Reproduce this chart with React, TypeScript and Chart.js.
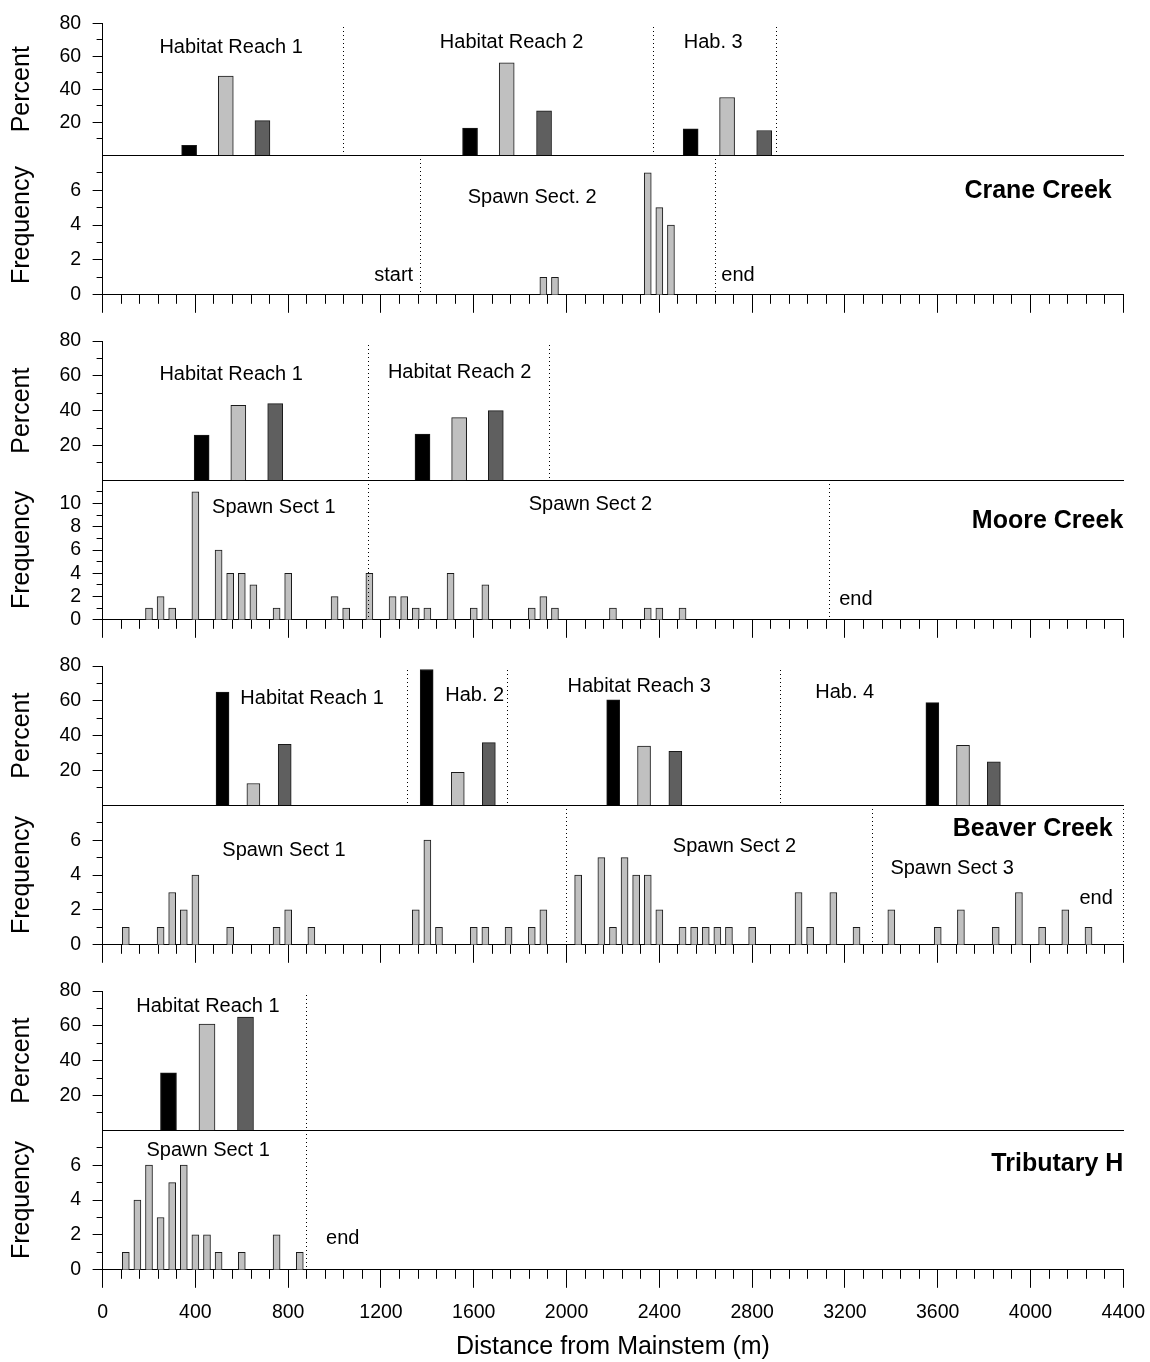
import React, { useEffect, useRef } from 'react';
import { Chart, registerables } from 'chart.js';

Chart.register(...registerables);

const FONT = "'Liberation Sans', Arial, Helvetica, sans-serif";
Chart.defaults.font.family = FONT;
Chart.defaults.color = '#000';

// ---------- axes ----------
const xMin = 0;
const xMax = 4400;
const xMinorStep = 80;
const xMajorStep = 400;
const pctMax = 80;
const pctStep = 10;
const pctLabelStep = 20;
const freqStep = 1;
const freqLabelStep = 2;
const xTitle = 'Distance from Mainstem (m)';
const pctTitle = 'Percent';
const freqTitle = 'Frequency';

// ---------- Crane Creek ----------
const craneBlackX = [373, 1584, 2535];
const craneBlackPct = [6, 16.5, 16];
const craneLightX = [531, 1742, 2692];
const craneLightPct = [48, 56, 35];
const craneDarkX = [689, 1903, 2852];
const craneDarkPct = [21, 27, 15];
const craneHabBounds = [1037, 2374, 2906];
const craneReddX = [1900, 1950, 2350, 2400, 2450];
const craneReddFreq = [1, 1, 7, 5, 4];
const craneSpawnBounds = [1372, 2640];
const craneHabText: [string, number, number][] = [
  ['Habitat Reach 1', 554, 65.3],
  ['Habitat Reach 2', 1763, 68.2],
  ['Hab. 3', 2632, 68.2],
];
const craneSpawnText: [string, number, number][] = [
  ['start', 1255, 1.12],
  ['Spawn Sect. 2', 1852, 5.6],
  ['end', 2739, 1.1],
];

// ---------- Moore Creek ----------
const mooreBlackX = [427, 1379];
const mooreBlackPct = [26, 26.5];
const mooreLightX = [585, 1537];
const mooreLightPct = [43, 36];
const mooreDarkX = [744, 1695];
const mooreDarkPct = [44, 40];
const mooreHabBounds = [1145, 1925];
const mooreReddX = [200, 250, 300, 400, 500, 550, 600, 650, 750, 800, 1000, 1050, 1150, 1250, 1300, 1350, 1400, 1500, 1600, 1650, 1850, 1900, 1950, 2200, 2350, 2400, 2500];
const mooreReddFreq = [1, 2, 1, 11, 6, 4, 4, 3, 1, 4, 2, 1, 4, 2, 2, 1, 1, 4, 1, 3, 1, 2, 1, 1, 1, 1, 1];
const mooreSpawnBounds = [1145, 3132];
const mooreHabText: [string, number, number][] = [
  ['Habitat Reach 1', 554, 60.7],
  ['Habitat Reach 2', 1539, 62.2],
];
const mooreSpawnText: [string, number, number][] = [
  ['Spawn Sect 1', 738, 9.65],
  ['Spawn Sect 2', 2103, 9.9],
  ['end', 3247, 1.73],
];

// ---------- Beaver Creek ----------
const beaverBlackX = [517, 1397, 2201, 3577];
const beaverBlackPct = [65, 78, 60.5, 59];
const beaverLightX = [650, 1531, 2334, 3709];
const beaverLightPct = [12.5, 19, 34, 34.5];
const beaverDarkX = [785, 1665, 2469, 3842];
const beaverDarkPct = [35, 36, 31, 25];
const beaverHabBounds = [1313, 1744, 2924];
const beaverReddX = [100, 250, 300, 350, 400, 550, 750, 800, 900, 1350, 1400, 1450, 1600, 1650, 1750, 1850, 1900, 2050, 2150, 2200, 2250, 2300, 2350, 2400, 2500, 2550, 2600, 2650, 2700, 2800, 3000, 3050, 3150, 3250, 3400, 3600, 3700, 3850, 3950, 4050, 4150, 4250];
const beaverReddFreq = [1, 1, 3, 2, 4, 1, 1, 2, 1, 2, 6, 1, 1, 1, 1, 1, 2, 4, 5, 1, 5, 4, 4, 2, 1, 1, 1, 1, 1, 1, 3, 1, 3, 1, 2, 1, 2, 1, 3, 1, 2, 1];
const beaverSpawnBounds = [2000, 3320, 4400];
const beaverHabText: [string, number, number][] = [
  ['Habitat Reach 1', 903, 61.5],
  ['Hab. 2', 1604, 62.8],
  ['Habitat Reach 3', 2313, 68.2],
  ['Hab. 4', 3199, 65],
];
const beaverSpawnText: [string, number, number][] = [
  ['Spawn Sect 1', 782, 5.43],
  ['Spawn Sect 2', 2724, 5.62],
  ['Spawn Sect 3', 3662, 4.38],
  ['end', 4283, 2.67],
];

// ---------- Tributary H ----------
const tribBlackX = [284];
const tribBlackPct = [33];
const tribLightX = [450];
const tribLightPct = [61];
const tribDarkX = [616];
const tribDarkPct = [65];
const tribHabBounds = [877];
const tribReddX = [100, 150, 200, 250, 300, 350, 400, 450, 500, 600, 750, 850];
const tribReddFreq = [1, 4, 6, 3, 5, 6, 2, 2, 1, 1, 2, 1];
const tribSpawnBounds = [877];
const tribHabText: [string, number, number][] = [['Habitat Reach 1', 454, 71]];
const tribSpawnText: [string, number, number][] = [
  ['Spawn Sect 1', 455, 6.84],
  ['end', 1035, 1.79],
];

// ---------- creek names ----------
const creekNames = ['Crane Creek', 'Moore Creek', 'Beaver Creek', 'Tributary H'];
const creekNameX = [4350, 4400, 4354, 4400];
const creekNameY = [5.94, 8.5, 6.63, 6.04];
const freqMax = [8, 12, 8, 8];

// ---------- styles / layout ----------
const W = 1150;
const H = 1362;
const PLOT_LEFT = 102.6;
const PLOT_RIGHT = 1123.3;
const BLOCK_TOPS = [16, 341, 666, 991];
const PCT_H = 139.3;
const FREQ_H = 139.5;
const C_BLACK = '#000000';
const C_LIGHT = '#c0c0c0';
const C_DARK = '#5f5f5f';
const C_EDGE = '#1a1a1a';
const PCT_BAR_W = [15, 15, 13, 16];
const FREQ_BAR_W = 7;

type Series = { x: number[]; y: number[]; color: string };
type Panel = {
  kind: 'pct' | 'freq';
  top: number;
  bottom: number;
  yMax: number;
  series: Series[];
  barW: number;
  bounds: number[];
  texts: [string, number, number][];
  name?: [string, number, number];
  last: boolean;
};

const pctSeries: Series[][] = [
  [
    { x: craneBlackX, y: craneBlackPct, color: C_BLACK },
    { x: craneLightX, y: craneLightPct, color: C_LIGHT },
    { x: craneDarkX, y: craneDarkPct, color: C_DARK },
  ],
  [
    { x: mooreBlackX, y: mooreBlackPct, color: C_BLACK },
    { x: mooreLightX, y: mooreLightPct, color: C_LIGHT },
    { x: mooreDarkX, y: mooreDarkPct, color: C_DARK },
  ],
  [
    { x: beaverBlackX, y: beaverBlackPct, color: C_BLACK },
    { x: beaverLightX, y: beaverLightPct, color: C_LIGHT },
    { x: beaverDarkX, y: beaverDarkPct, color: C_DARK },
  ],
  [
    { x: tribBlackX, y: tribBlackPct, color: C_BLACK },
    { x: tribLightX, y: tribLightPct, color: C_LIGHT },
    { x: tribDarkX, y: tribDarkPct, color: C_DARK },
  ],
];
const freqSeries: Series[] = [
  { x: craneReddX, y: craneReddFreq, color: C_LIGHT },
  { x: mooreReddX, y: mooreReddFreq, color: C_LIGHT },
  { x: beaverReddX, y: beaverReddFreq, color: C_LIGHT },
  { x: tribReddX, y: tribReddFreq, color: C_LIGHT },
];
const habBounds = [craneHabBounds, mooreHabBounds, beaverHabBounds, tribHabBounds];
const spawnBounds = [craneSpawnBounds, mooreSpawnBounds, beaverSpawnBounds, tribSpawnBounds];
const habTexts = [craneHabText, mooreHabText, beaverHabText, tribHabText];
const spawnTexts = [craneSpawnText, mooreSpawnText, beaverSpawnText, tribSpawnText];

const PANELS: Panel[] = [];
BLOCK_TOPS.forEach((t, i) => {
  PANELS.push({
    kind: 'pct',
    top: t,
    bottom: t + PCT_H,
    yMax: pctMax,
    series: pctSeries[i],
    barW: PCT_BAR_W[i],
    bounds: habBounds[i],
    texts: habTexts[i],
    last: false,
  });
  PANELS.push({
    kind: 'freq',
    top: t + PCT_H,
    bottom: t + PCT_H + FREQ_H,
    yMax: freqMax[i],
    series: [freqSeries[i]],
    barW: FREQ_BAR_W,
    bounds: spawnBounds[i],
    texts: spawnTexts[i],
    name: [creekNames[i], creekNameX[i], creekNameY[i]],
    last: i === BLOCK_TOPS.length - 1,
  });
});

function decor(p: Panel) {
  return {
    id: 'decor',
    afterDatasetsDraw(chart: any) {
      const ctx: CanvasRenderingContext2D = chart.ctx;
      const xs = chart.scales.x;
      const ys = chart.scales.y;
      const { left, top, bottom } = chart.chartArea;
      ctx.save();
      ctx.strokeStyle = '#000';
      ctx.lineWidth = 1;
      // y tick marks
      ys.ticks.forEach((t: any) => {
        const v = t.value;
        let len = 0;
        if (p.kind === 'pct') {
          if (v <= 0) return;
          len = v % pctLabelStep === 0 ? 10 : 6;
        } else {
          if (v >= p.yMax) return;
          len = v % freqLabelStep === 0 ? 10 : 6;
        }
        const y = Math.round(ys.getPixelForValue(v) - 0.5) + 0.5;
        ctx.beginPath();
        ctx.moveTo(left - len, y);
        ctx.lineTo(Math.round(left), y);
        ctx.stroke();
      });
      // x tick marks
      if (p.kind === 'freq') {
        xs.ticks.forEach((t: any) => {
          const v = t.value;
          const len = v % xMajorStep === 0 ? 18 : 9;
          const x = Math.round(xs.getPixelForValue(v) - 0.5) + 0.5;
          ctx.beginPath();
          ctx.moveTo(x, bottom);
          ctx.lineTo(x, bottom + len);
          ctx.stroke();
        });
      }
      // dotted boundaries
      ctx.setLineDash([1, 3]);
      p.bounds.forEach((b) => {
        const x = Math.round(xs.getPixelForValue(b) - 0.5) + 0.5;
        ctx.beginPath();
        ctx.moveTo(x, Math.round(top) + 4);
        ctx.lineTo(x, bottom);
        ctx.stroke();
      });
      ctx.setLineDash([]);
      // texts
      ctx.fillStyle = '#000';
      ctx.textBaseline = 'middle';
      ctx.textAlign = 'center';
      ctx.font = `20px ${FONT}`;
      p.texts.forEach(([s, x, y]) => {
        ctx.fillText(s, xs.getPixelForValue(x), ys.getPixelForValue(y));
      });
      if (p.name) {
        ctx.font = `bold 25px ${FONT}`;
        ctx.textAlign = 'right';
        ctx.fillText(p.name[0], xs.getPixelForValue(p.name[1]), ys.getPixelForValue(p.name[2]));
      }
      ctx.restore();
    },
  };
}

function buildConfig(p: Panel): any {
  const xH = p.kind === 'pct' ? 1 : p.last ? H - p.bottom : 30;
  const datasets = p.series.map((s) => ({
    type: 'bar',
    data: s.x.map((x, i) => ({ x, y: s.y[i] })),
    backgroundColor: s.color,
    borderColor: C_EDGE,
    borderWidth: 1,
    barThickness: p.barW,
    grouped: false,
  }));
  const tickFont = { family: FONT, size: 19.5 };
  const titleFont = { family: FONT, size: 25 };
  return {
    type: 'bar',
    data: { datasets },
    options: {
      responsive: false,
      animation: false,
      events: [],
      layout: {
        padding: {
          left: 0,
          right: W - PLOT_RIGHT,
          top: p.top,
          bottom: H - p.bottom - xH,
        },
      },
      plugins: { legend: { display: false }, tooltip: { enabled: false } },
      scales: {
        x: {
          type: 'linear',
          position: 'bottom',
          min: xMin,
          max: xMax,
          offset: false,
          ticks: {
            stepSize: xMinorStep,
            autoSkip: false,
            maxRotation: 0,
            minRotation: 0,
            display: p.kind === 'freq' && p.last,
            padding: 0,
            font: tickFont,
            color: '#000',
            callback: (v: number) => (v % xMajorStep === 0 ? String(v) : ''),
          },
          grid: { display: false, drawTicks: true, tickLength: p.kind === 'freq' ? 31 : 0 },
          border: { display: true, color: '#000', width: 1 },
          title: {
            display: p.kind === 'freq' && p.last,
            text: xTitle,
            font: titleFont,
            color: '#000',
            padding: 0,
          },
          afterFit: (s: any) => {
            s.height = xH;
          },
        },
        y: {
          type: 'linear',
          position: 'left',
          min: 0,
          max: p.yMax,
          ticks: {
            stepSize: p.kind === 'pct' ? pctStep : freqStep,
            autoSkip: false,
            padding: 11.5,
            font: tickFont,
            color: '#000',
            callback: (v: number) => {
              if (p.kind === 'pct') return v > 0 && v % pctLabelStep === 0 ? String(v) : '';
              return v < p.yMax && v % freqLabelStep === 0 ? String(v) : '';
            },
          },
          grid: { display: false, drawTicks: true, tickLength: 10 },
          border: { display: true, color: '#000', width: 1 },
          title: {
            display: true,
            text: p.kind === 'pct' ? pctTitle : freqTitle,
            font: titleFont,
            color: '#000',
            padding: { top: 7.3, bottom: 0 },
          },
          afterFit: (s: any) => {
            s.width = PLOT_LEFT;
          },
        },
      },
    },
    plugins: [decor(p)],
  };
}

export default function App() {
  const refs = useRef<(HTMLCanvasElement | null)[]>([]);
  useEffect(() => {
    const charts = PANELS.map((p, i) => new Chart(refs.current[i] as HTMLCanvasElement, buildConfig(p)));
    return () => charts.forEach((c) => c.destroy());
  }, []);
  return (
    <div style={{ position: 'absolute', left: 0, top: 0, width: W, height: H, overflow: 'hidden', background: '#fff' }}>
      {PANELS.map((_, i) => (
        <canvas
          key={i}
          ref={(el) => {
            refs.current[i] = el;
          }}
          width={W}
          height={H}
          style={{ position: 'absolute', left: 0, top: 0, width: W, height: H }}
        />
      ))}
    </div>
  );
}
